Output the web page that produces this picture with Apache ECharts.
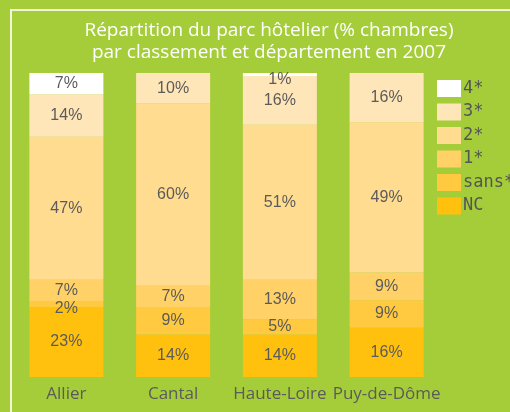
<!DOCTYPE html>
<html lang="fr">
<head>
    <meta charset="UTF-8">
    <title>Parc hôtelier 2007</title>
    <style type="text/css">
        html,
        body,
        .canvas {
            padding: 0;
            margin: 0;
            overflow: hidden;
            background-color: #a5cd39;
            width: 510px;
            height: 412px;
        }
    </style>
</head>
<body>
<div class="canvas" id="chart"></div>
<script type="text/javascript" src="https://cdn.jsdelivr.net/npm/echarts@6/dist/echarts.min.js"></script>
<script>
    // départements
    const categories = ['Allier', 'Cantal', 'Haute-Loire', 'Puy-de-Dôme'];
    // % chambres par classement
    const nc = [23, 14, 14, 16];
    const sans = [2, 9, 5, 9];
    const une = [7, 7, 13, 9];
    const deux = [47, 60, 51, 49];
    const trois = [14, 10, 16, 16];
    const quatre = [7, 0, 1, 0];

    const seriesNames = ['NC', 'sans*', '1*', '2*', '3*', '4*'];
    const seriesValues = [nc, sans, une, deux, trois, quatre];
    const colors = ['#ffc10e', '#ffc940', '#ffd166', '#ffdc8f', '#ffe6b8', '#ffffff'];

    // empilement à 100 %
    const totals = categories.map(function (c, i) {
        return seriesValues.reduce(function (s, arr) { return s + arr[i]; }, 0);
    });

    const series = seriesNames.map(function (name, k) {
        const raw = seriesValues[k];
        return {
            name: name,
            type: 'bar',
            stack: 'total',
            barWidth: 74,
            itemStyle: {color: colors[k]},
            data: raw.map(function (v, i) {
                const item = {value: v / totals[i] * 100, raw: v};
                if (v > 0 && v < 3) item.label = {offset: [0, 5]};
                return item;
            }),
            label: {
                show: true,
                position: 'inside',
                color: '#5b5b5b',
                fontFamily: 'Liberation Sans',
                fontSize: 16,
                formatter: function (p) {
                    return p.data.raw ? p.data.raw + '%' : '';
                }
            }
        };
    });

    const chart = echarts.init(document.getElementById('chart'), null, {renderer: 'canvas'});
    chart.setOption({
        backgroundColor: '#a5cd39',
        animation: false,
        title: {
            text: 'Répartition du parc hôtelier (% chambres)\npar classement et département en 2007',
            left: 264,
            top: 15,
            textAlign: 'center',
            textStyle: {
                color: '#ffffff',
                fontFamily: 'Open Sans',
                fontWeight: 'normal',
                fontSize: 19,
                lineHeight: 22
            }
        },
        graphic: [{
            type: 'rect',
            shape: {x: 11, y: 10, width: 600, height: 500},
            style: {fill: 'none', stroke: '#f1f6d8', lineWidth: 2},
            silent: true
        }],
        legend: {
            orient: 'vertical',
            left: 432,
            top: 75,
            itemWidth: 24,
            itemHeight: 17,
            itemGap: 6.5,
            icon: 'rect',
            data: ['4*', '3*', '2*', '1*', 'sans*', 'NC'],
            textStyle: {
                color: '#555555',
                fontFamily: 'DejaVu Sans Mono',
                fontSize: 17,
                lineHeight: 17,
                padding: [0, 0, 0, -3]
            }
        },
        grid: {left: 13, right: 70, top: 73, bottom: 35},
        xAxis: {
            type: 'category',
            data: categories,
            axisLine: {show: false},
            axisTick: {show: false},
            axisLabel: {
                interval: 0,
                color: '#5b5b5b',
                fontFamily: 'Open Sans',
                fontSize: 17,
                margin: 9
            }
        },
        yAxis: {
            type: 'value',
            min: 0,
            max: 100,
            show: false,
            splitLine: {show: false}
        },
        series: series
    });
</script>
</body>
</html>
